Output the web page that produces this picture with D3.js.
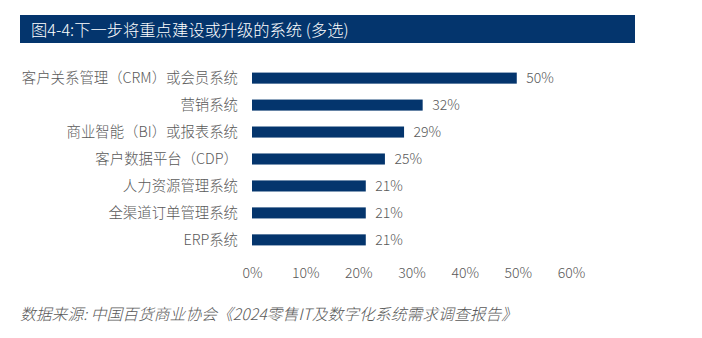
<!DOCTYPE html>
<html><head><meta charset="utf-8">
<script src="https://cdn.jsdelivr.net/npm/d3@7"></script>
<style>
body{margin:0;background:#fff;}
svg{display:block;font-family:"Noto Sans CJK SC","Noto Sans",sans-serif;}
</style></head>
<body><svg id="c" width="702" height="338"></svg>
<script>
const categories = ["客户关系管理（CRM）或会员系统","营销系统","商业智能（BI）或报表系统","客户数据平台（CDP）","人力资源管理系统","全渠道订单管理系统","ERP系统"];
const values = [49.8,32.1,28.6,25.0,21.4,21.4,21.4];
const ticks = [0,10,20,30,40,50,60];
const title = "图4-4:下一步将重点建设或升级的系统 (多选)";
const source = "数据来源: 中国百货商业协会《2024零售IT及数字化系统需求调查报告》";

const svg = d3.select("#c");
const navy = "#04356d";
const grey = "#595959";
svg.append("rect").attr("x",20).attr("y",15).attr("width",615).attr("height",28).attr("fill",navy);
svg.append("text").attr("x",31).attr("y",35.5).attr("fill","#fff").attr("font-size",16.3).attr("font-weight",300).text(title);

const x = d3.scaleLinear().domain([0,60]).range([252,571]);
const y = d3.scaleBand().domain(categories).range([64.5,253.5]).paddingInner(0.59).paddingOuter(0.3);

svg.selectAll(".bar").data(values).join("rect")
  .attr("x",x(0)).attr("y",(d,i)=>y(categories[i]))
  .attr("width",d=>x(d)-x(0)).attr("height",y.bandwidth()).attr("fill",navy);

svg.selectAll(".cat").data(categories).join("text")
  .attr("x",238).attr("y",d=>y(d)+y.bandwidth()/2).attr("dy","0.35em")
  .attr("text-anchor","end").attr("font-size",14.4).attr("font-weight",300).attr("fill",grey).text(d=>d);

svg.selectAll(".val").data(values).join("text")
  .attr("x",d=>x(d)+9.5).attr("y",(d,i)=>y(categories[i])+y.bandwidth()/2).attr("dy","0.35em")
  .attr("font-size",14).attr("font-weight",300).attr("fill",grey).text(d=>Math.round(d)+"%");

const ax = svg.append("g").attr("transform","translate(0,268)")
  .call(d3.axisBottom(x).tickValues(ticks).tickFormat(d=>d+"%").tickSize(0).tickPadding(0));
ax.select(".domain").remove();
ax.selectAll("text").attr("font-size",14).attr("font-weight",300).attr("fill",grey).attr("font-family","\"Noto Sans CJK SC\",sans-serif");

svg.append("text").attr("x",20).attr("y",320).attr("font-size",15.8).attr("font-style","italic").attr("font-weight",300)
  .attr("fill",grey).text(source);
</script></body></html>
